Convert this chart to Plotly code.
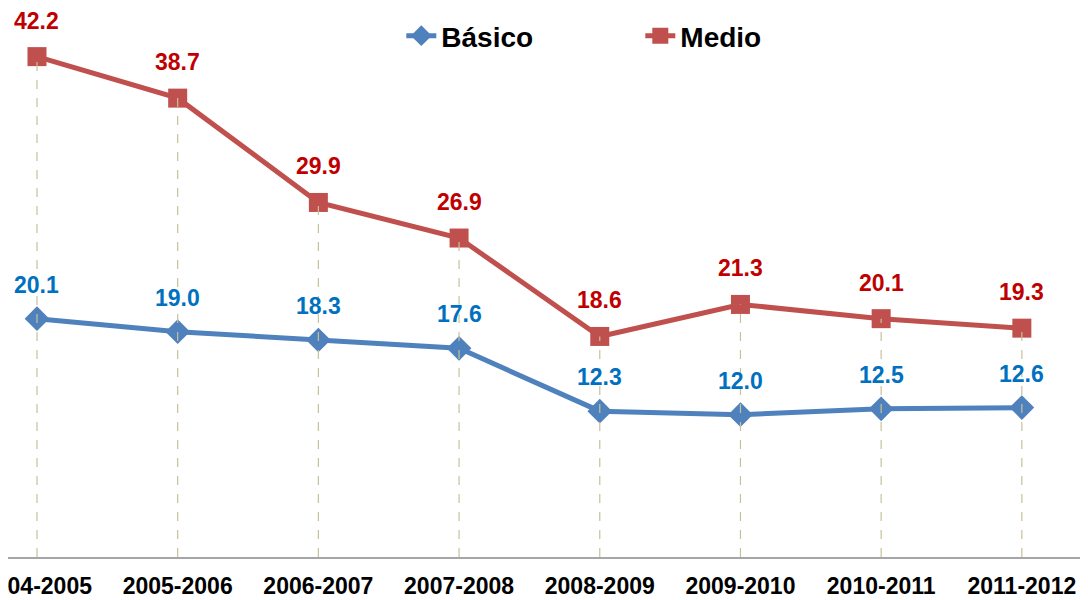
import plotly.graph_objects as go

# Periods (school years) and the two series
periodos = ['2004-2005', '2005-2006', '2006-2007', '2007-2008',
            '2008-2009', '2009-2010', '2010-2011', '2011-2012']
basico = [20.1, 19.0, 18.3, 17.6, 12.3, 12.0, 12.5, 12.6]
medio = [42.2, 38.7, 29.9, 26.9, 18.6, 21.3, 20.1, 19.3]

FONT = 'Liberation Sans'

fig = go.Figure()

fig.add_trace(go.Scatter(
    x=periodos, y=basico, name='Básico', mode='lines+markers',
    line=dict(color='#4F81BD', width=5),
    marker=dict(symbol='diamond', size=19, color='#4F81BD'),
))
fig.add_trace(go.Scatter(
    x=periodos, y=medio, name='Medio', mode='lines+markers',
    line=dict(color='#C0504D', width=5),
    marker=dict(symbol='square', size=19, color='#C0504D'),
))

# Dashed drop lines from each point to the axis
for i, p in enumerate(periodos):
    fig.add_shape(type='line', x0=i, x1=i, y0=0, y1=max(basico[i], medio[i]),
                  xref='x', yref='y', layer='above',
                  line=dict(color='#C9C09A', width=1.2, dash='dash'))

# Value labels above the points
for p, v in zip(periodos, basico):
    fig.add_annotation(x=p, y=v, text=f'{v:.1f}', showarrow=False, yshift=34,
                       font=dict(color='#0070C0', size=23, family=FONT, weight='bold'))
for p, v in zip(periodos, medio):
    fig.add_annotation(x=p, y=v, text=f'{v:.1f}', showarrow=False, yshift=36,
                       font=dict(color='#C00000', size=23, family=FONT, weight='bold'))

fig.update_layout(
    width=1088, height=600,
    margin=dict(l=0, r=0, t=0, b=51),
    plot_bgcolor='white', paper_bgcolor='white',
    font=dict(family=FONT, color='black', weight='bold'),
    showlegend=True,
    legend=dict(orientation='h', x=0.3615, xanchor='left', y=0.949, yanchor='middle',
                font=dict(size=28, color='black', family=FONT, weight='bold'),
                entrywidth=194, entrywidthmode='pixels', bgcolor='rgba(0,0,0,0)'),
    xaxis=dict(range=[-0.206, 7.527], showgrid=False, showline=True, automargin=False,
               linecolor='#A6A6A6', linewidth=2, ticks='', ticklabelstandoff=7,
               tickfont=dict(size=23, color='black', family=FONT, weight='bold')),
    yaxis=dict(range=[0, 46.3], visible=False, showgrid=False, zeroline=False),
)

fig.write_html("out.html")
